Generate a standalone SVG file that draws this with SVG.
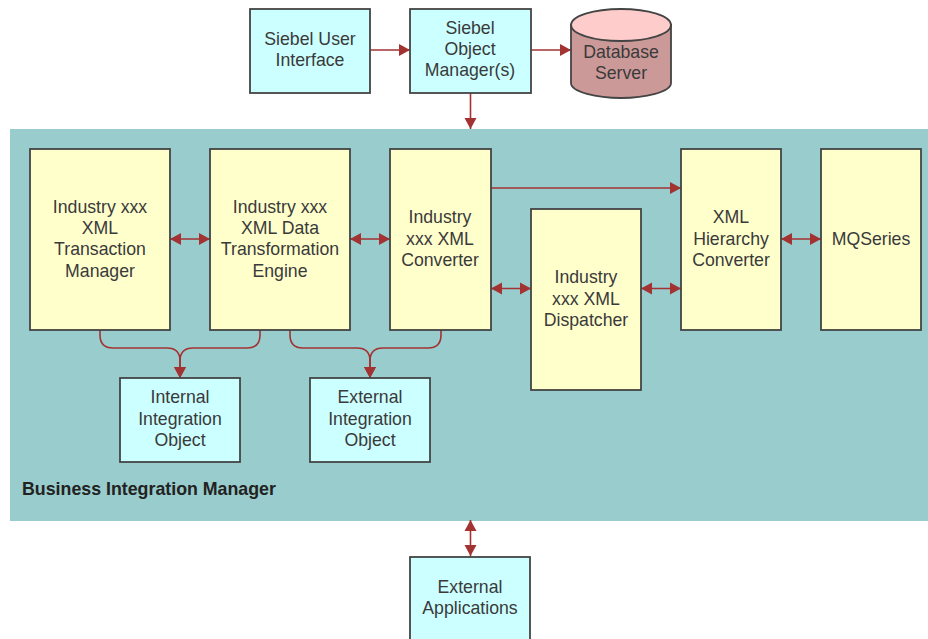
<svg xmlns="http://www.w3.org/2000/svg" width="928" height="639" viewBox="0 0 928 639">
<style>
text{font-family:"Liberation Sans",Arial,sans-serif;font-size:17.7px;fill:#3a3a3a;text-anchor:middle}
.c{fill:#ccffff;stroke:#444;stroke-width:1.8}
.y{fill:#ffffcc;stroke:#444;stroke-width:1.8}
.l{fill:none;stroke:#a33232;stroke-width:1.6}
.a{fill:#a33232;stroke:none}
</style>
<defs>
<marker id="e" markerUnits="userSpaceOnUse" markerWidth="12" markerHeight="13" refX="11" refY="6.5" orient="auto-start-reverse"><path class="a" d="M0 0.5L11 6.5L0 12.5z"/></marker>
</defs>
<rect id="bim-panel" x="10" y="129" width="918" height="392" fill="#99cccc"/>
<text x="22" y="495" style="font-weight:700;font-size:17.8px;fill:#222;text-anchor:start">Business Integration Manager</text>
<g id="connectors">
<path class="l" d="M370 50H410" marker-end="url(#e)"/>
<path class="l" d="M531 50H571" marker-end="url(#e)"/>
<path class="l" d="M470.500 93V129" marker-end="url(#e)"/>
<path class="l" d="M470.500 520V556" marker-start="url(#e)" marker-end="url(#e)"/>
<path class="l" d="M170 239H210" marker-start="url(#e)" marker-end="url(#e)"/>
<path class="l" d="M350 239H390" marker-start="url(#e)" marker-end="url(#e)"/>
<path class="l" d="M491 288.500H531" marker-start="url(#e)" marker-end="url(#e)"/>
<path class="l" d="M641 288.500H681" marker-start="url(#e)" marker-end="url(#e)"/>
<path class="l" d="M781 239H821" marker-start="url(#e)" marker-end="url(#e)"/>
<path class="l" d="M491 188H681" marker-end="url(#e)"/>
<path class="l" d="M100 330V335Q100 348 113 348H167Q180 348 180 361V378" marker-end="url(#e)"/>
<path class="l" d="M260 330V335Q260 348 247 348H193Q180 348 180 361V378" marker-end="url(#e)"/>
<path class="l" d="M290 330V335Q290 348 303 348H357Q370 348 370 361V378" marker-end="url(#e)"/>
<path class="l" d="M441 330V335Q441 348 428 348H383Q370 348 370 361V378" marker-end="url(#e)"/>
</g>
<g id="siebel-ui"><rect class="c" x="250" y="9" width="120" height="84"/><text x="310" y="45">Siebel User</text><text x="310" y="66">Interface</text></g>
<g id="object-manager"><rect class="c" x="410" y="9" width="121" height="84"/><text x="470" y="34">Siebel</text><text x="470" y="55">Object</text><text x="470" y="76">Manager(s)</text></g>
<g id="database"><path d="M571 25V83C571 92 597 98 621 98S671 92 671 83V25z" fill="#cc9999" stroke="#444" stroke-width="1.8"/><ellipse cx="621" cy="25" rx="50" ry="16" fill="#ffcccc" stroke="#444" stroke-width="1.8"/><text x="621" y="58">Database</text><text x="621" y="79">Server</text></g>
<g id="transaction-manager"><rect class="y" x="30" y="149" width="140" height="181"/><text x="100" y="213">Industry xxx</text><text x="100" y="234">XML</text><text x="100" y="255">Transaction</text><text x="100" y="277">Manager</text></g>
<g id="transformation-engine"><rect class="y" x="210" y="149" width="140" height="181"/><text x="280" y="213">Industry xxx</text><text x="280" y="234">XML Data</text><text x="280" y="255">Transformation</text><text x="280" y="277">Engine</text></g>
<g id="converter"><rect class="y" x="390" y="149" width="101" height="181"/><text x="440" y="223">Industry</text><text x="440" y="245">xxx XML</text><text x="440" y="266">Converter</text></g>
<g id="dispatcher"><rect class="y" x="531" y="209" width="110" height="181"/><text x="586" y="283">Industry</text><text x="586" y="305">xxx XML</text><text x="586" y="326">Dispatcher</text></g>
<g id="hierarchy-converter"><rect class="y" x="681" y="149" width="100" height="181"/><text x="731" y="223">XML</text><text x="731" y="245">Hierarchy</text><text x="731" y="266">Converter</text></g>
<g id="mqseries"><rect class="y" x="821" y="149" width="100" height="181"/><text x="871" y="245">MQSeries</text></g>
<g id="internal-object"><rect class="c" x="120" y="378" width="120" height="84"/><text x="180" y="403">Internal</text><text x="180" y="425">Integration</text><text x="180" y="446">Object</text></g>
<g id="external-object"><rect class="c" x="310" y="378" width="120" height="84"/><text x="370" y="403">External</text><text x="370" y="425">Integration</text><text x="370" y="446">Object</text></g>
<g id="external-apps"><rect class="c" x="410" y="557" width="120" height="90"/><text x="470" y="593">External</text><text x="470" y="614">Applications</text></g>
</svg>
